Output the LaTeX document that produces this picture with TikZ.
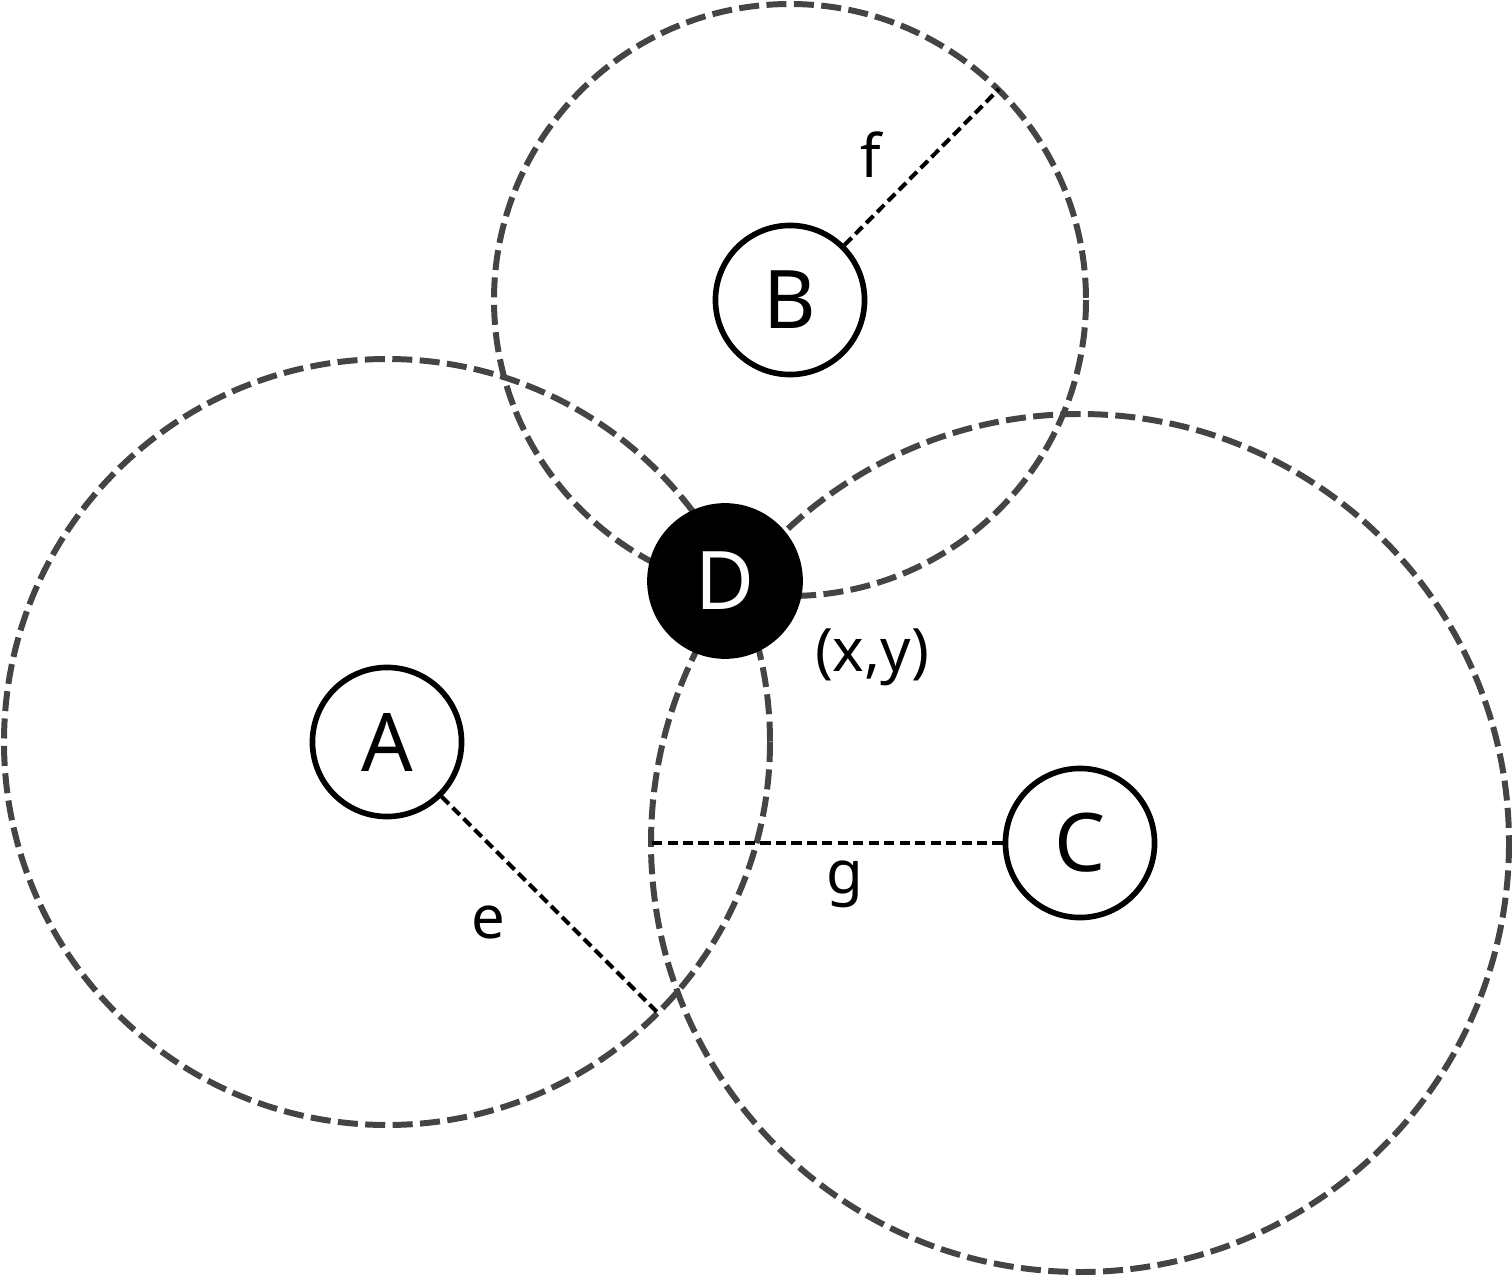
\documentclass[tikz,border=0pt]{standalone}
\usepackage{fontspec}
\setmainfont{Noto Sans}
\begin{document}
\begin{tikzpicture}[x=0.01cm,y=-0.01cm,
  ring/.style={draw=ringgray,line width=1.7pt,dash pattern=on 5.7pt off 2.1pt},
  radius line/.style={draw=black,line width=1.15pt,dash pattern=on 2.9pt off 1.5pt},
  station/.style={circle,draw=black,fill=white,line width=1.6pt,minimum size=1.49cm,inner sep=0pt,font=\fontsize{23}{26}\selectfont},
  target/.style={circle,draw=black,fill=black,text=white,line width=1.6pt,minimum size=1.5cm,inner sep=0pt,font=\fontsize{23}{26}\selectfont},
  lbl/.style={font=\fontsize{17}{20}\selectfont,inner sep=0pt}]
\definecolor{ringgray}{HTML}{444444}
\useasboundingbox (0,0) rectangle (1512,1276);
% range circles
\draw[ring] (387,742) circle[radius=383];
\draw[ring] (790,300) circle[radius=296];
\draw[ring] (1080,843) circle[radius=429];
% radius end points
\coordinate (eA) at (658,1013);
\coordinate (eB) at (999,89);
\coordinate (eC) at (651,843);
% nodes
\node[station] (A) at (387,742) {A};
\node[station] (B) at (790,300) {B};
\node[station] (C) at (1080,843) {C};
\node[target] (D) at (725,581) {D};
% radius lines
\draw[radius line] (A) -- (eA);
\draw[radius line] (B) -- (eB);
\draw[radius line] (C) -- (eC);
% labels
\node[lbl] (le) at (488,922) {e};
\node[lbl] (lf) at (871,155) {f};
\node[lbl] (lg) at (845,884) {g};
\node[lbl] (lxy) at (872,657) {(x,y)};
\end{tikzpicture}
\end{document}
